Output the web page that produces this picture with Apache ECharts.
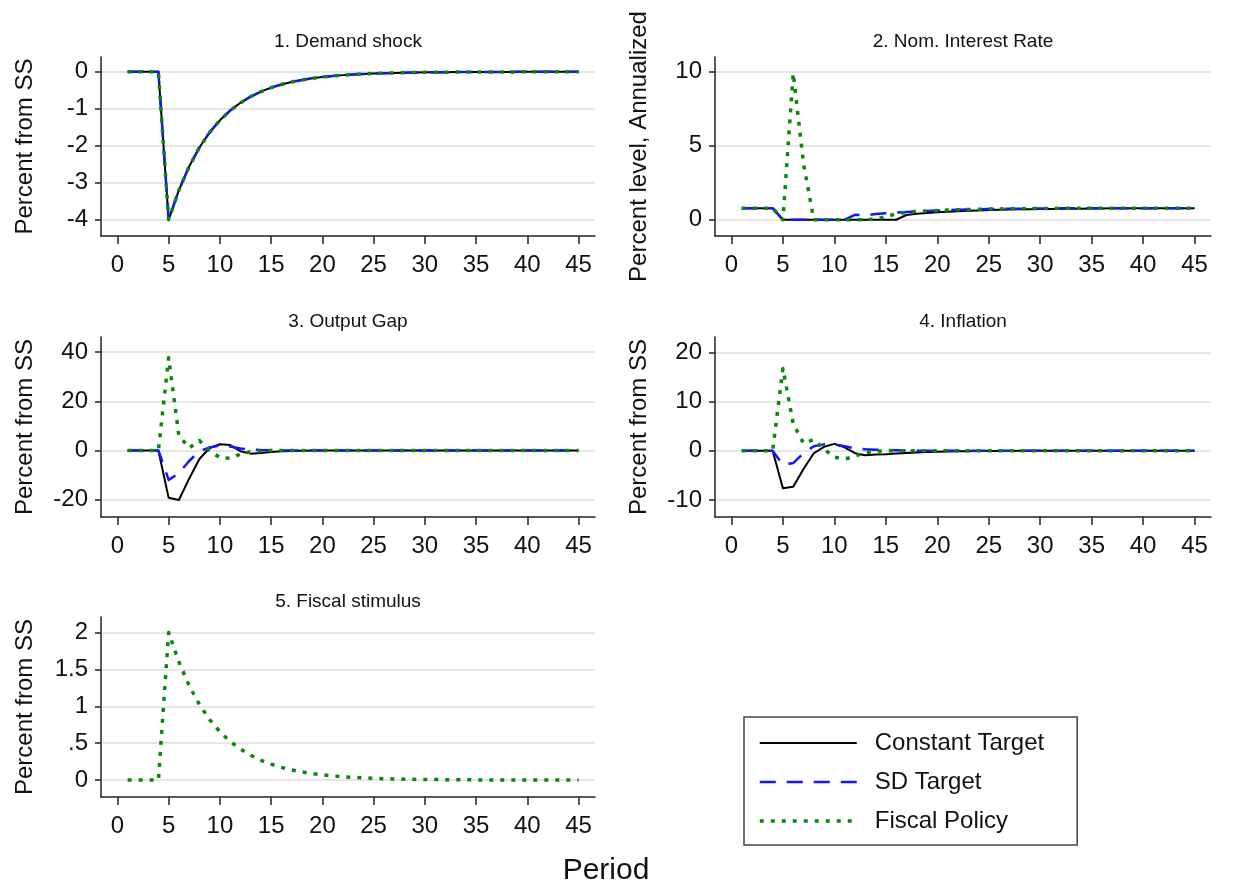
<!DOCTYPE html>
<html><head><meta charset="utf-8">
<script src="https://cdn.jsdelivr.net/npm/echarts@6/dist/echarts.min.js"></script>
<style>html,body{margin:0;padding:0;background:#fff}#c{width:1257px;height:888px}</style>
</head><body><div id="c"></div>
<script>
// ---------- data ----------
const periods = [1,2,3,4,5,6,7,8,9,10,11,12,13,14,15,16,17,18,19,20,21,22,23,24,25,26,27,28,29,30,31,32,33,34,35,36,37,38,39,40,41,42,43,44,45];
const seriesNames = ['Constant Target', 'SD Target', 'Fiscal Policy'];
const panelTitles = ['1. Demand shock', '2. Nom. Interest Rate', '3. Output Gap', '4. Inflation', '5. Fiscal stimulus'];
const yTitles = ['Percent from SS', 'Percent level, Annualized', 'Percent from SS', 'Percent from SS', 'Percent from SS'];
const xTitle = 'Period';
const xTicks = [0,5,10,15,20,25,30,35,40,45];
const yTicks1 = [-4,-3,-2,-1,0];
const yTicks2 = [0,5,10];
const yTicks3 = [-20,0,20,40];
const yTicks4 = [-10,0,10,20];
const yTicks5 = [0,0.5,1,1.5,2];

// 1. Demand shock (identical under all three policies)
const demandShock = [0,0,0,0,-4,-3.2,-2.56,-2.048,-1.638,-1.311,-1.049,-0.839,-0.671,-0.537,-0.429,-0.344,-0.275,-0.22,-0.176,-0.141,-0.113,-0.09,-0.072,-0.058,-0.046,-0.037,-0.03,-0.024,-0.019,-0.015,-0.012,-0.01,-0.008,-0.006,-0.005,-0.004,-0.003,-0.003,-0.002,-0.002,-0.001,-0.001,-0.001,-0.001,0];

// 2. Nominal interest rate
const rateConst = [0.78,0.78,0.78,0.78,0,0,0,0,0,0,0,0,0,0,0,0,0.32,0.4,0.46,0.5,0.54,0.58,0.61,0.63,0.65,0.67,0.69,0.7,0.71,0.72,0.73,0.74,0.75,0.75,0.76,0.76,0.77,0.77,0.77,0.77,0.78,0.78,0.78,0.78,0.78];
const rateSD = [0.78,0.78,0.78,0.78,0,0,0,0,0,0,0,0.33,0.3,0.38,0.43,0.48,0.52,0.56,0.59,0.62,0.65,0.67,0.69,0.7,0.72,0.73,0.74,0.75,0.75,0.76,0.76,0.77,0.77,0.77,0.77,0.78,0.78,0.78,0.78,0.78,0.78,0.78,0.78,0.78,0.78];
const rateFiscal = [0.78,0.78,0.78,0.78,0,9.9,3.8,0,0,0,0,0,0,0.05,0.2,0.4,0.5,0.56,0.59,0.62,0.65,0.67,0.69,0.7,0.72,0.73,0.74,0.75,0.75,0.76,0.76,0.77,0.77,0.77,0.77,0.78,0.78,0.78,0.78,0.78,0.78,0.78,0.78,0.78,0.78];

// 3. Output gap
const gapConst = [0,0,0,0,-19.3,-20.2,-11.5,-3.5,1.0,2.5,2.2,-0.3,-1.3,-1.0,-0.6,-0.35,-0.2,-0.1,-0.05,0,0,0,0,0,0,0,0,0,0,0,0,0,0,0,0,0,0,0,0,0,0,0,0,0,0];
const gapSD = [0,0,0,0,-12,-9.3,-4.3,-0.3,1.2,2.1,1.6,0.8,0.4,0.15,0.05,0,0,0,0,0,0,0,0,0,0,0,0,0,0,0,0,0,0,0,0,0,0,0,0,0,0,0,0,0,0];
const gapFiscal = [0,0,0,0,37.8,6,1,4,0,-3,-3.2,-1.5,-0.5,0,0,0,0,0,0,0,0,0,0,0,0,0,0,0,0,0,0,0,0,0,0,0,0,0,0,0,0,0,0,0,0];

// 4. Inflation
const inflConst = [0,0,0,0,-7.6,-7.3,-3.7,-0.5,0.8,1.4,0.7,-0.5,-0.9,-0.75,-0.7,-0.55,-0.45,-0.35,-0.27,-0.2,-0.15,-0.12,-0.09,-0.07,-0.05,-0.04,-0.03,-0.02,-0.01,-0.01,0,0,0,0,0,0,0,0,0,0,0,0,0,0,0];
const inflSD = [0,0,0,0,-2.9,-2.5,-0.5,0.9,1.3,1.3,0.9,0.5,0.3,0.2,0.15,0.1,0.05,0,0,0,0,0,0,0,0,0,0,0,0,0,0,0,0,0,0,0,0,0,0,0,0,0,0,0,0];
const inflFiscal = [0,0,0,0,16.7,5.5,1.5,2.3,0.3,-1.3,-1.7,-1.1,-0.4,-0.1,0,0,0,0,0,0,0,0,0,0,0,0,0,0,0,0,0,0,0,0,0,0,0,0,0,0,0,0,0,0,0];

// 5. Fiscal stimulus (only the fiscal policy scenario)
const fiscalStim = [0,0,0,0,2,1.6,1.28,1.024,0.819,0.655,0.524,0.419,0.336,0.268,0.215,0.172,0.137,0.11,0.088,0.07,0.056,0.045,0.036,0.029,0.023,0.018,0.015,0.012,0.009,0.008,0.006,0.005,0.004,0.003,0.002,0.002,0.002,0.001,0.001,0.001,0.001,0,0,0,0];

// ---------- chart ----------
const FONT = '"Liberation Sans", Arial, Helvetica, sans-serif';
const styleOf = {
  'Constant Target': {color: '#000000', width: 2, type: 'solid'},
  'SD Target': {color: '#1414ff', width: 2.5, type: [16, 11]},
  'Fiscal Policy': {color: '#0a870a', width: 3.5, type: [4, 7]}
};
const grids = [
  {left: 101, top: 57, width: 494, height: 179},
  {left: 715, top: 57, width: 496, height: 179},
  {left: 101, top: 337, width: 494, height: 180},
  {left: 715, top: 337, width: 496, height: 180},
  {left: 101, top: 617, width: 494, height: 180}
];
const yRanges = [[-4.44, 0.40], [-1.1, 11.0], [-27.1, 46.2], [-13.45, 23.1], [-0.23, 2.21]];
const yTickSets = [yTicks1, yTicks2, yTicks3, yTicks4, yTicks5];
const titleX = [348, 963, 348, 963, 348];
const titleY = [32, 32, 312, 312, 592];

const panelData = [
  [demandShock, demandShock, demandShock],
  [rateConst, rateSD, rateFiscal],
  [gapConst, gapSD, gapFiscal],
  [inflConst, inflSD, inflFiscal],
  [null, null, fiscalStim]
];

const axisColor = '#222';
const fmt = v => String(v).replace(/^0\./, '.').replace(/^-0\./, '-.');

const xAxes = grids.map((g, i) => ({
  gridIndex: i, type: 'value', min: -1.6, max: 46.6,
  axisLine: {show: true, onZero: false, lineStyle: {color: axisColor, width: 1.5}},
  axisTick: {show: true, length: 8, customValues: xTicks, lineStyle: {color: axisColor, width: 1.5}},
  axisLabel: {show: true, customValues: xTicks, fontSize: 24, color: '#111', margin: 17, fontFamily: FONT},
  splitLine: {show: false}
}));
const yAxes = grids.map((g, i) => ({
  gridIndex: i, type: 'value', min: yRanges[i][0], max: yRanges[i][1],
  name: yTitles[i], nameLocation: 'middle', nameGap: 64, nameRotate: 90,
  nameTextStyle: {fontSize: 24, color: '#111', fontFamily: FONT},
  axisLine: {show: true, onZero: false, lineStyle: {color: axisColor, width: 1.5}},
  axisTick: {show: true, length: 6, customValues: yTickSets[i], lineStyle: {color: axisColor, width: 1.5}},
  axisLabel: {show: true, customValues: yTickSets[i], fontSize: 24, color: '#111', margin: 13, fontFamily: FONT, formatter: fmt},
  splitLine: {show: true, lineStyle: {color: '#e6e6e6', width: 2}}
}));

const series = [];
panelData.forEach((arrs, gi) => {
  arrs.forEach((vals, si) => {
    if (!vals) return;
    const name = seriesNames[si];
    const st = styleOf[name];
    series.push({
      name: name, type: 'line', xAxisIndex: gi, yAxisIndex: gi,
      data: periods.map((p, k) => [p, vals[k]]),
      showSymbol: false, symbol: 'none', smooth: false, silent: true,
      lineStyle: {color: st.color, width: st.width, type: st.type, cap: 'butt', join: 'round'},
      itemStyle: {color: st.color},
      z: 2 + si
    });
  });
});

const titles = panelTitles.map((t, i) => ({
  text: t, left: titleX[i], top: titleY[i], textAlign: 'center', padding: 0,
  textStyle: {fontSize: 19, fontWeight: 'normal', color: '#111', fontFamily: FONT}
}));
titles.push({
  text: xTitle, left: 606, top: 856, textAlign: 'center', padding: 0,
  textStyle: {fontSize: 30, fontWeight: 'normal', color: '#111', fontFamily: FONT}
});

const chart = echarts.init(document.getElementById('c'), null, {renderer: 'canvas'});
chart.setOption({
  animation: false,
  backgroundColor: '#ffffff',
  title: titles,
  grid: grids.map(g => Object.assign({containLabel: false}, g)),
  xAxis: xAxes,
  yAxis: yAxes,
  legend: {
    left: 744, top: 717, orient: 'vertical',
    itemWidth: 97, itemHeight: 24, itemGap: 15,
    padding: [14, 33, 12, 14],
    borderColor: '#444', borderWidth: 1.5, borderRadius: 0,
    backgroundColor: '#fff',
    itemStyle: {opacity: 0, borderWidth: 0},
    textStyle: {fontSize: 24, color: '#111', fontFamily: FONT, padding: [0, 0, 0, 13]},
    data: seriesNames.map(n => ({
      name: n,
      lineStyle: {color: styleOf[n].color, width: styleOf[n].width, type: styleOf[n].type, cap: 'butt'}
    }))
  },
  series: series
});
</script>
</body></html>
